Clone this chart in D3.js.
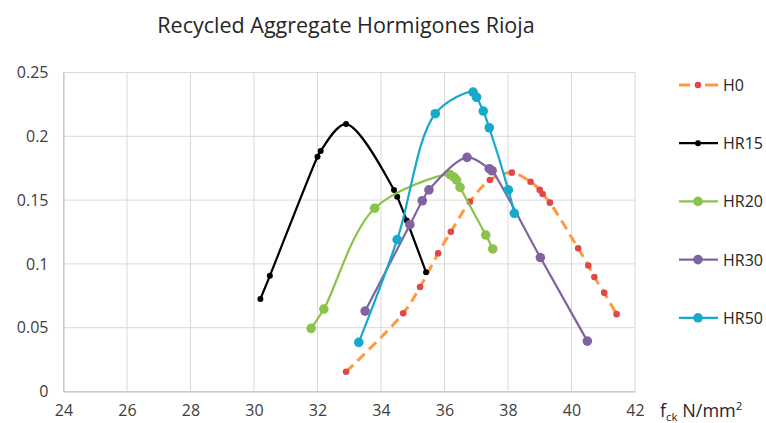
<!DOCTYPE html>
<html>
<head>
<meta charset="utf-8">
<script src="https://cdn.jsdelivr.net/npm/d3@7"></script>
<style>
  body { margin: 0; background: #fff; }
  svg { font-family: "Open Sans", "Liberation Sans", sans-serif; }
</style>
</head>
<body>
<svg id="chart" width="766" height="423"></svg>
<script>
// values
const h0X   = [32.9, 34.7, 35.23, 35.8, 36.2, 36.8, 37.43, 38.12, 38.71, 39.0, 39.09, 39.32, 40.21, 40.53, 40.72, 41.03, 41.42];
const h0Y   = [0.0155, 0.0613, 0.0819, 0.1083, 0.1252, 0.1488, 0.1657, 0.1715, 0.1644, 0.158, 0.1548, 0.148, 0.1122, 0.0988, 0.0897, 0.0773, 0.0606];
const hr15X = [30.2, 30.5, 32.0, 32.1, 32.9, 34.41, 34.51, 34.81, 35.42];
const hr15Y = [0.0725, 0.0907, 0.184, 0.1885, 0.2096, 0.158, 0.1527, 0.134, 0.0934];
const hr20X = [31.8, 32.2, 33.8, 36.17, 36.3, 36.38, 36.49, 37.3, 37.52];
const hr20Y = [0.0495, 0.0646, 0.1436, 0.170, 0.168, 0.1657, 0.160, 0.1226, 0.1117];
const hr30X = [33.5, 34.91, 35.3, 35.51, 36.71, 37.41, 37.5, 39.02, 40.5];
const hr30Y = [0.063, 0.1307, 0.1495, 0.158, 0.1835, 0.1746, 0.173, 0.105, 0.0395];
const hr50X = [33.3, 34.51, 35.71, 36.9, 37.01, 37.22, 37.41, 38.01, 38.2];
const hr50Y = [0.0385, 0.119, 0.2177, 0.2347, 0.2306, 0.2198, 0.2067, 0.158, 0.1396];

const xTicks = [24, 26, 28, 30, 32, 34, 36, 38, 40, 42];
const yTicks = [0, 0.05, 0.1, 0.15, 0.2, 0.25];

const series = [
  { name: 'H0',   xs: h0X,   ys: h0Y,   line: '#ff9a3c', dot: '#e04848', r: 3.3, w: 3, dash: '10,6' },
  { name: 'HR15', xs: hr15X, ys: hr15Y, line: '#000000', dot: '#000000', r: 3,   w: 2.2 },
  { name: 'HR20', xs: hr20X, ys: hr20Y, line: '#8bc34a', dot: '#8bc34a', r: 4.8, w: 2.2 },
  { name: 'HR30', xs: hr30X, ys: hr30Y, line: '#8064a2', dot: '#8064a2', r: 4.8, w: 2.2 },
  { name: 'HR50', xs: hr50X, ys: hr50Y, line: '#17a9c9', dot: '#17a9c9', r: 4.8, w: 2.2 }
];

const svg = d3.select('#chart');
const margin = { top: 72.5, right: 131, bottom: 31.5, left: 63.5 };
const width = 766 - margin.left - margin.right;
const height = 423 - margin.top - margin.bottom;

const x = d3.scaleLinear().domain([24, 42]).range([0, width]);
const y = d3.scaleLinear().domain([0, 0.25]).range([height, 0]);

svg.append('text')
  .attr('x', 346).attr('y', 33)
  .attr('text-anchor', 'middle')
  .attr('font-size', 21.5)
  .attr('fill', '#262626')
  .text('Recycled Aggregate Hormigones Rioja');

const chart = svg.append('g')
  .attr('transform', `translate(${margin.left},${margin.top})`);

// gridlines
chart.append('g')
  .selectAll('line.v')
  .data(xTicks)
  .enter().append('line')
  .attr('x1', d => x(d)).attr('x2', d => x(d))
  .attr('y1', 0).attr('y2', height)
  .attr('stroke', '#d9d9d9').attr('stroke-width', 1);

chart.append('g')
  .selectAll('line.h')
  .data(yTicks)
  .enter().append('line')
  .attr('x1', 0).attr('x2', width)
  .attr('y1', d => y(d)).attr('y2', d => y(d))
  .attr('stroke', '#d9d9d9').attr('stroke-width', 1);

// axes
const xAxis = chart.append('g')
  .attr('transform', `translate(0,${height})`)
  .call(d3.axisBottom(x).tickValues(xTicks).tickSize(0).tickPadding(13).tickFormat(d3.format('d')));
const yAxis = chart.append('g')
  .call(d3.axisLeft(y).tickValues(yTicks).tickSize(0).tickPadding(15).tickFormat(d => d === 0 ? '0' : String(d)));

[xAxis, yAxis].forEach(a => {
  a.select('.domain').attr('stroke', '#bfbfbf');
  a.selectAll('text').attr('font-size', 16).attr('fill', '#404040')
    .attr('font-family', '"Open Sans", "Liberation Sans", sans-serif');
});

// x axis label
const lab = svg.append('text')
  .attr('x', 660).attr('y', 417)
  .attr('font-size', 18)
  .attr('fill', '#262626');
lab.append('tspan').text('f');
lab.append('tspan').attr('font-size', 11.5).attr('dy', 4).text('ck');
lab.append('tspan').attr('dy', -4).text(' N/mm');
lab.append('tspan').attr('font-size', 11.5).attr('dy', -7).text('2');

// series
const line = d3.line()
  .x(d => x(d[0]))
  .y(d => y(d[1]))
  .curve(d3.curveCatmullRom.alpha(0.5));

series.forEach(s => {
  const pts = s.xs.map((v, i) => [v, s.ys[i]]);
  chart.append('path')
    .datum(pts)
    .attr('d', line)
    .attr('fill', 'none')
    .attr('stroke', s.line)
    .attr('stroke-width', s.w)
    .attr('stroke-dasharray', s.dash || null);
  chart.append('g')
    .selectAll('circle')
    .data(pts)
    .enter().append('circle')
    .attr('cx', d => x(d[0]))
    .attr('cy', d => y(d[1]))
    .attr('r', s.r)
    .attr('fill', s.dot);
});

// legend
const legend = svg.append('g');
series.forEach((s, i) => {
  const ly = 85 + i * 58.2;
  const g = legend.append('g').attr('transform', `translate(0,${ly})`);
  if (s.dash) {
    g.append('line').attr('x1', 679).attr('x2', 690).attr('y1', 0).attr('y2', 0)
      .attr('stroke', s.line).attr('stroke-width', s.w);
    g.append('line').attr('x1', 705).attr('x2', 718).attr('y1', 0).attr('y2', 0)
      .attr('stroke', s.line).attr('stroke-width', s.w);
  } else {
    g.append('line').attr('x1', 679).attr('x2', 718).attr('y1', 0).attr('y2', 0)
      .attr('stroke', s.line).attr('stroke-width', s.w);
  }
  g.append('circle').attr('cx', 698).attr('cy', 0).attr('r', s.r).attr('fill', s.dot);
  g.append('text').attr('x', 723).attr('y', 6)
    .attr('font-size', 16).attr('fill', '#262626')
    .text(s.name);
});
</script>
</body>
</html>
